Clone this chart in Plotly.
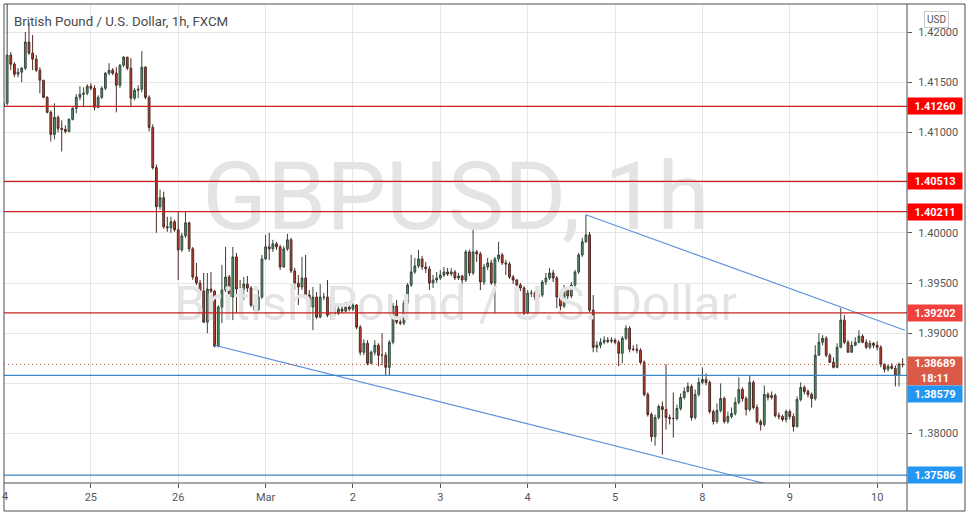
import plotly.graph_objects as go

# ---------------- data (hourly GBPUSD candles) ----------------
day_labels = ["25", "26", "Mar", "2", "3", "4", "5", "8", "9", "10"]
day_start_bars = [24, 48, 72, 96, 120, 144, 168, 192, 216, 240]

first_open = 1.4126
close = [
    1.4129, 1.4177, 1.4168, 1.4158, 1.4160, 1.4164, 1.4190, 1.4179, 1.4173, 1.4162,
    1.4152, 1.4135, 1.4120, 1.4098, 1.4115, 1.4104, 1.4103, 1.4101, 1.4113, 1.4124,
    1.4135, 1.4138, 1.4139, 1.4146, 1.4144, 1.4125, 1.4135, 1.4144, 1.4159, 1.4162,
    1.4159, 1.4147, 1.4167, 1.4175, 1.4164, 1.4134, 1.4142, 1.4143, 1.4165, 1.4135,
    1.4105, 1.4065, 1.4026, 1.4035, 1.4006, 1.4005, 1.4011, 1.4003, 1.3983, 1.3997,
    1.4010, 1.3984, 1.3956, 1.3950, 1.3942, 1.3911, 1.3944, 1.3942, 1.3887, 1.3926,
    1.3943, 1.3956, 1.3936, 1.3976, 1.3944, 1.3944, 1.3949, 1.3945, 1.3928, 1.3923,
    1.3936, 1.3974, 1.3986, 1.3984, 1.3989, 1.3986, 1.3966, 1.3984, 1.3993, 1.3962,
    1.3950, 1.3946, 1.3955, 1.3938, 1.3926, 1.3936, 1.3916, 1.3936, 1.3936, 1.3918,
    1.3920, 1.3920, 1.3924, 1.3922, 1.3926, 1.3924, 1.3928, 1.3906, 1.3881, 1.3890,
    1.3870, 1.3881, 1.3888, 1.3878, 1.3878, 1.3866, 1.3891, 1.3927, 1.3911, 1.3910,
    1.3930, 1.3948, 1.3961, 1.3967, 1.3974, 1.3966, 1.3964, 1.3950, 1.3953, 1.3955,
    1.3958, 1.3961, 1.3959, 1.3961, 1.3955, 1.3957, 1.3953, 1.3981, 1.3960, 1.3981,
    1.3979, 1.3951, 1.3966, 1.3970, 1.3950, 1.3974, 1.3978, 1.3970, 1.3969, 1.3956,
    1.3953, 1.3948, 1.3945, 1.3920, 1.3940, 1.3940, 1.3936, 1.3938, 1.3951, 1.3955,
    1.3960, 1.3955, 1.3936, 1.3927, 1.3944, 1.3937, 1.3948, 1.3961, 1.3978, 1.3991,
    1.3998, 1.3923, 1.3886, 1.3888, 1.3891, 1.3893, 1.3892, 1.3893, 1.3891, 1.3880,
    1.3895, 1.3905, 1.3884, 1.3884, 1.3883, 1.3871, 1.3839, 1.3819, 1.3797, 1.3816,
    1.3827, 1.3824, 1.3816, 1.3815, 1.3815, 1.3825, 1.3836, 1.3842, 1.3847, 1.3816,
    1.3839, 1.3851, 1.3854, 1.3851, 1.3822, 1.3812, 1.3823, 1.3835, 1.3812, 1.3817,
    1.3820, 1.3831, 1.3844, 1.3835, 1.3824, 1.3851, 1.3826, 1.3812, 1.3809, 1.3839,
    1.3836, 1.3838, 1.3818, 1.3817, 1.3814, 1.3822, 1.3817, 1.3807, 1.3834, 1.3846,
    1.3842, 1.3839, 1.3835, 1.3878, 1.3891, 1.3895, 1.3878, 1.3871, 1.3866, 1.3886,
    1.3913, 1.3891, 1.3881, 1.3888, 1.3891, 1.3897, 1.3891, 1.3886, 1.3890, 1.3888,
    1.3886, 1.3869, 1.3864, 1.3867, 1.3865, 1.3858, 1.3869, 1.38689,
]
high = [
    1.4132, 1.4240, 1.4180, 1.4170, 1.4164, 1.4165, 1.4200, 1.4209, 1.4197, 1.4177,
    1.4165, 1.4152, 1.4136, 1.4122, 1.4129, 1.4117, 1.4112, 1.4107, 1.4114, 1.4125,
    1.4138, 1.4146, 1.4145, 1.4148, 1.4149, 1.4147, 1.4137, 1.4146, 1.4160, 1.4169,
    1.4164, 1.4165, 1.4168, 1.4176, 1.4175, 1.4174, 1.4144, 1.4147, 1.4181, 1.4166,
    1.4137, 1.4108, 1.4068, 1.4043, 1.4041, 1.4016, 1.4016, 1.4013, 1.4021, 1.4000,
    1.4021, 1.4011, 1.3986, 1.3970, 1.3953, 1.3960, 1.3960, 1.3961, 1.3943, 1.3928,
    1.3968, 1.3986, 1.3958, 1.3986, 1.3980, 1.3953, 1.3956, 1.3957, 1.3947, 1.3936,
    1.3943, 1.3978, 1.3998, 1.4000, 1.3993, 1.3991, 1.3988, 1.3987, 1.3999, 1.3995,
    1.3965, 1.3958, 1.3976, 1.3978, 1.3943, 1.3946, 1.3941, 1.3949, 1.3940, 1.3953,
    1.3936, 1.3928, 1.3928, 1.3930, 1.3931, 1.3929, 1.3930, 1.3929, 1.3908, 1.3894,
    1.3893, 1.3883, 1.3893, 1.3890, 1.3900, 1.3881, 1.3893, 1.3930, 1.3933, 1.3915,
    1.3933, 1.3950, 1.3978, 1.3975, 1.3983, 1.3977, 1.3971, 1.3967, 1.3958, 1.3961,
    1.3963, 1.3966, 1.3965, 1.3965, 1.3963, 1.3960, 1.3958, 1.3983, 1.3983, 1.4006,
    1.3983, 1.3981, 1.3969, 1.3975, 1.3973, 1.3976, 1.3991, 1.3980, 1.3973, 1.3971,
    1.3958, 1.3954, 1.3950, 1.3947, 1.3943, 1.3943, 1.3942, 1.3941, 1.3953, 1.3960,
    1.3965, 1.3963, 1.3957, 1.3938, 1.3948, 1.3946, 1.3951, 1.3963, 1.3980, 1.3995,
    1.4018, 1.4001, 1.3938, 1.3892, 1.3895, 1.3897, 1.3896, 1.3896, 1.3895, 1.3893,
    1.3897, 1.3908, 1.3907, 1.3888, 1.3889, 1.3885, 1.3873, 1.3841, 1.3821, 1.3819,
    1.3829, 1.3832, 1.3869, 1.3819, 1.3841, 1.3829, 1.3840, 1.3846, 1.3851, 1.3849,
    1.3844, 1.3856, 1.3866, 1.3860, 1.3853, 1.3824, 1.3830, 1.3850, 1.3837, 1.3822,
    1.3826, 1.3836, 1.3856, 1.3846, 1.3837, 1.3858, 1.3853, 1.3829, 1.3814, 1.3848,
    1.3841, 1.3842, 1.3840, 1.3821, 1.3819, 1.3824, 1.3824, 1.3820, 1.3837, 1.3851,
    1.3848, 1.3844, 1.3841, 1.3888, 1.3900, 1.3898, 1.3897, 1.3880, 1.3876, 1.3890,
    1.3925, 1.3918, 1.3893, 1.3892, 1.3896, 1.3903, 1.3899, 1.3894, 1.3893, 1.3891,
    1.3892, 1.3888, 1.3870, 1.3869, 1.3870, 1.3868, 1.3871, 1.3875,
]
low = [
    1.4119, 1.4127, 1.4162, 1.4155, 1.4155, 1.4150, 1.4162, 1.4177, 1.4162, 1.4160,
    1.4139, 1.4134, 1.4119, 1.4091, 1.4093, 1.4100, 1.4081, 1.4099, 1.4100, 1.4112,
    1.4119, 1.4132, 1.4125, 1.4137, 1.4142, 1.4122, 1.4124, 1.4133, 1.4142, 1.4157,
    1.4157, 1.4120, 1.4144, 1.4165, 1.4162, 1.4125, 1.4132, 1.4134, 1.4140, 1.4133,
    1.4101, 1.4063, 1.4000, 1.4023, 1.4004, 1.4001, 1.4000, 1.4001, 1.3953, 1.3981,
    1.3995, 1.3981, 1.3953, 1.3948, 1.3940, 1.3910, 1.3900, 1.3940, 1.3886, 1.3886,
    1.3910, 1.3941, 1.3915, 1.3913, 1.3920, 1.3933, 1.3933, 1.3941, 1.3926, 1.3921,
    1.3925, 1.3934, 1.3973, 1.3973, 1.3981, 1.3983, 1.3963, 1.3965, 1.3982, 1.3960,
    1.3943, 1.3928, 1.3943, 1.3936, 1.3923, 1.3903, 1.3914, 1.3915, 1.3933, 1.3916,
    1.3913, 1.3917, 1.3918, 1.3920, 1.3921, 1.3922, 1.3922, 1.3904, 1.3878, 1.3878,
    1.3868, 1.3869, 1.3878, 1.3867, 1.3868, 1.3858, 1.3858, 1.3889, 1.3909, 1.3908,
    1.3908, 1.3928, 1.3946, 1.3959, 1.3965, 1.3963, 1.3960, 1.3943, 1.3945, 1.3950,
    1.3953, 1.3956, 1.3957, 1.3957, 1.3953, 1.3953, 1.3936, 1.3951, 1.3957, 1.3958,
    1.3971, 1.3943, 1.3948, 1.3963, 1.3948, 1.3920, 1.3971, 1.3968, 1.3958, 1.3954,
    1.3949, 1.3945, 1.3942, 1.3918, 1.3919, 1.3936, 1.3933, 1.3935, 1.3936, 1.3948,
    1.3953, 1.3951, 1.3925, 1.3918, 1.3925, 1.3934, 1.3935, 1.3946, 1.3959, 1.3976,
    1.3990, 1.3921, 1.3881, 1.3881, 1.3885, 1.3889, 1.3890, 1.3890, 1.3889, 1.3867,
    1.3870, 1.3893, 1.3881, 1.3882, 1.3880, 1.3869, 1.3837, 1.3817, 1.3792, 1.3788,
    1.3814, 1.3779, 1.3804, 1.3809, 1.3796, 1.3813, 1.3823, 1.3834, 1.3841, 1.3813,
    1.3814, 1.3837, 1.3849, 1.3848, 1.3820, 1.3809, 1.3810, 1.3821, 1.3810, 1.3810,
    1.3815, 1.3818, 1.3829, 1.3832, 1.3818, 1.3822, 1.3824, 1.3810, 1.3803, 1.3807,
    1.3833, 1.3834, 1.3816, 1.3814, 1.3812, 1.3811, 1.3814, 1.3802, 1.3806, 1.3832,
    1.3839, 1.3836, 1.3826, 1.3833, 1.3878, 1.3888, 1.3876, 1.3871, 1.3865, 1.3865,
    1.3885, 1.3889, 1.3881, 1.3881, 1.3887, 1.3890, 1.3890, 1.3884, 1.3884, 1.3885,
    1.3883, 1.3866, 1.3861, 1.3862, 1.3864, 1.3847, 1.3847, 1.3866,
]

resistance_levels = [1.41260, 1.40513, 1.40211, 1.39202]
support_levels = [1.38579, 1.37586]
last_price = 1.38689
countdown = "18:11"

upper_trend_x = [160, 247.6]
upper_trend_y = [1.4018, 1.3903]
lower_trend_x = [58, 215]
lower_trend_y = [1.3888, 1.3745]

y_ticks = [1.380, 1.385, 1.390, 1.395, 1.400, 1.405, 1.410, 1.415, 1.420]
hidden_ticks = [1.385, 1.405]

# ---------------- derived ----------------
n = len(close)
bars = list(range(n))
open_ = [first_open] + close[:-1]
hi = [max(h, o, c) for h, o, c in zip(high, open_, close)]
lo = [min(l, o, c) for l, o, c in zip(low, open_, close)]

FONT = "Roboto"
fig = go.Figure()

# watermark (drawn first so candles sit above it)
fig.add_trace(go.Scatter(
    x=[124.3], y=[1.4027], mode="text", text=["GBPUSD, 1h"],
    textposition="middle center",
    textfont=dict(family=FONT, size=95, color="#e4e4e4"),
    hoverinfo="skip", showlegend=False))
fig.add_trace(go.Scatter(
    x=[124.3], y=[1.3925], mode="text", text=["British Pound / U.S. Dollar"],
    textposition="middle center",
    textfont=dict(family=FONT, size=49, color="#e4e4e4"),
    hoverinfo="skip", showlegend=False))

fig.add_trace(go.Candlestick(
    x=bars, open=open_, high=hi, low=lo, close=close,
    increasing=dict(fillcolor="#4f9a6e", line=dict(color="#35483b", width=1)),
    decreasing=dict(fillcolor="#c4432f", line=dict(color="#4e2a24", width=1)),
    whiskerwidth=0, hoverinfo="skip", showlegend=False))

# trend lines
fig.add_trace(go.Scatter(x=upper_trend_x, y=upper_trend_y, mode="lines",
                         line=dict(color="#5d93dc", width=1.2),
                         hoverinfo="skip", showlegend=False))
fig.add_trace(go.Scatter(x=lower_trend_x, y=lower_trend_y, mode="lines",
                         line=dict(color="#5d93dc", width=1.2),
                         hoverinfo="skip", showlegend=False))

shapes = []
for lv in resistance_levels:
    shapes.append(dict(type="line", xref="paper", yref="y", x0=0, x1=1, y0=lv, y1=lv,
                       line=dict(color="#cc1f1f", width=1.3)))
for lv in support_levels:
    shapes.append(dict(type="line", xref="paper", yref="y", x0=0, x1=1, y0=lv, y1=lv,
                       line=dict(color="#3a86c8", width=1.3)))
shapes.append(dict(type="line", xref="paper", yref="y", x0=0, x1=1,
                   y0=last_price, y1=last_price,
                   line=dict(color="#b4523c", width=1, dash="1px,3px")))

# frame
fx_r = (965 - 4) / 903.0
fy_b = -(511 - 483) / 479.0
frame = dict(color="#4d4d4d", width=1)
for (x0, y0, x1, y1) in [
    (0, 1, fx_r, 1), (0, fy_b, fx_r, fy_b), (0, fy_b, 0, 1), (fx_r, fy_b, fx_r, 1),
    (1, fy_b, 1, 1), (0, 0, 1, 0)]:
    shapes.append(dict(type="line", xref="paper", yref="paper",
                       x0=x0, y0=y0, x1=x1, y1=y1, line=frame, layer="above"))

annotations = []
res_colors = ["#ff0000", "#ff0000", "#ff0000", "#f0413f"]
for lv, col in zip(resistance_levels, res_colors):
    annotations.append(dict(xref="paper", yref="y", x=1.0, y=lv, xanchor="left",
                            yanchor="middle", showarrow=False,
                            text="<b>%.5f</b>" % lv, bgcolor=col, width=52, height=14,
                            borderpad=1, font=dict(family=FONT, size=11, color="white")))
annotations.append(dict(xref="paper", yref="y", x=1.0, y=last_price, xanchor="left",
                        yanchor="top", yshift=8, showarrow=False,
                        text="<b>%.5f</b><br><b>%s</b>" % (last_price, countdown),
                        bgcolor="#db5a47", width=52, height=26, borderpad=1,
                        font=dict(family=FONT, size=11, color="white")))
annotations.append(dict(xref="paper", yref="y", x=1.0, y=support_levels[0], xanchor="left",
                        yanchor="middle", yshift=-18.5, showarrow=False,
                        text="<b>%.5f</b>" % support_levels[0], bgcolor="#2196f3",
                        width=52, height=14, borderpad=1,
                        font=dict(family=FONT, size=11, color="white")))
annotations.append(dict(xref="paper", yref="y", x=1.0, y=support_levels[1], xanchor="left",
                        yanchor="middle", showarrow=False,
                        text="<b>%.5f</b>" % support_levels[1], bgcolor="#2196f3",
                        width=52, height=14, borderpad=1,
                        font=dict(family=FONT, size=11, color="white")))
# title
annotations.append(dict(xref="paper", yref="paper", x=(12 - 4) / 903.0,
                        y=(483 - 21) / 479.0, xanchor="left", yanchor="middle",
                        showarrow=False, text="British Pound / U.S. Dollar, 1h, FXCM",
                        font=dict(family=FONT, size=13.3, color="#4a4a4a")))
# currency badge
annotations.append(dict(xref="paper", yref="paper", x=(936 - 4) / 903.0,
                        y=(483 - 19.5) / 479.0, xanchor="center", yanchor="middle",
                        showarrow=False, text="USD", bgcolor="white",
                        bordercolor="#c8c8c8", borderwidth=1, borderpad=2,
                        font=dict(family=FONT, size=10, color="#555555")))
# first day label, cut by the left edge in the original (only "4" shows)
annotations.append(dict(xref="paper", yref="paper", x=(5 - 4) / 903.0,
                        y=-(496 - 483) / 479.0, xanchor="center", yanchor="middle",
                        showarrow=False, text="4",
                        font=dict(family=FONT, size=11, color="#555555")))

fig.update_layout(
    width=972, height=517,
    margin=dict(l=4, r=65, t=4, b=34),
    paper_bgcolor="white", plot_bgcolor="white",
    showlegend=False,
    shapes=shapes, annotations=annotations,
    xaxis=dict(range=[0.14, 248.2], tickmode="array", tickvals=day_start_bars,
               ticktext=day_labels, showgrid=True, gridcolor="#e6e6e6", gridwidth=1,
               ticks="outside", ticklen=4, tickcolor="#555555",
               tickfont=dict(family=FONT, size=11, color="#555555"),
               zeroline=False, showline=False, rangeslider=dict(visible=False),
               fixedrange=True),
    yaxis=dict(side="right", range=[1.37508, 1.42279], tickmode="array",
               tickvals=y_ticks,
               ticktext=["" if t in hidden_ticks else "%.5f" % t for t in y_ticks],
               showgrid=True, gridcolor="#e6e6e6", gridwidth=1,
               ticks="outside", ticklen=4, tickcolor="#555555",
               ticklabelstandoff=4,
               tickfont=dict(family=FONT, size=11, color="#555555"),
               zeroline=False, showline=False, fixedrange=True),
)

fig.write_html("out.html",
               config={"displayModeBar": False, "staticPlot": False},
               post_script="document.body.style.margin='0px';"
                           "document.body.style.overflow='hidden';")
